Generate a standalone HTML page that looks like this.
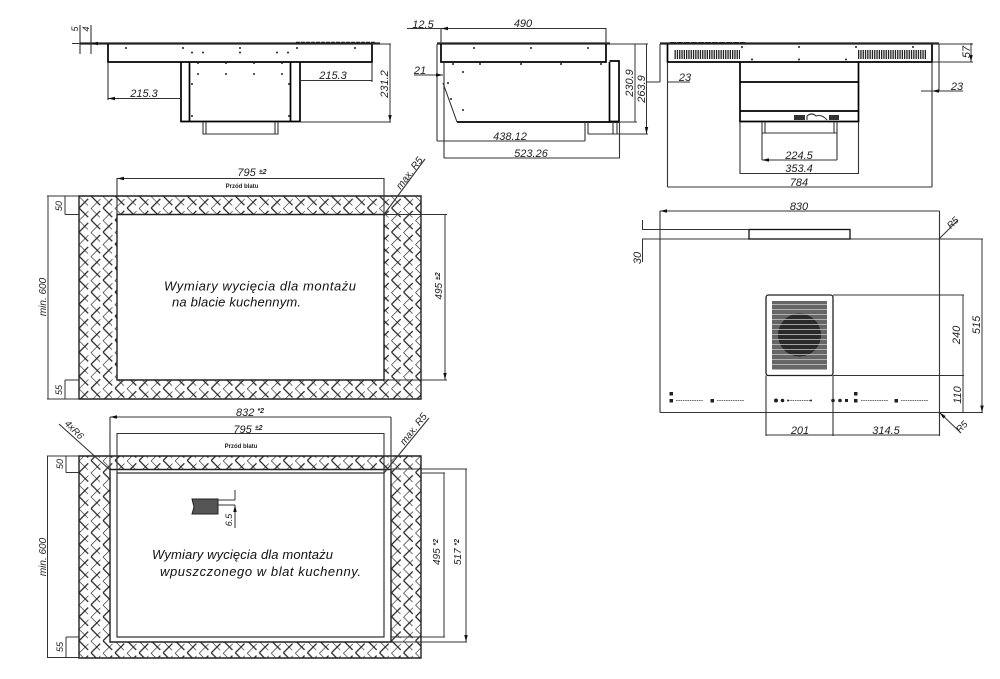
<!DOCTYPE html>
<html><head><meta charset="utf-8"><style>
html,body{margin:0;padding:0;background:#fff;width:1000px;height:679px;overflow:hidden}
svg{display:block;filter:blur(.3px)}
text{font-family:"Liberation Sans",sans-serif;font-style:italic;fill:#222;text-anchor:middle}
.d{font-size:11px}
.n{font-size:13px;text-anchor:start;fill:#111}
.p{font-size:6px;font-weight:bold;font-style:normal}
.t{stroke:#333;stroke-width:1.1;fill:none}
.m{stroke:#000;stroke-width:1.7;fill:none}
.x{stroke:#222;stroke-width:2.2;fill:none}
.a{stroke:#333;stroke-width:1;fill:none;marker-start:url(#ar);marker-end:url(#ar)}
.e{stroke:#333;stroke-width:1;fill:none;marker-end:url(#ar)}
</style></head><body>
<svg width="1000" height="679" viewBox="0 0 1000 679" xmlns="http://www.w3.org/2000/svg">
<defs>
<marker id="ar" markerUnits="userSpaceOnUse" markerWidth="7" markerHeight="5" refX="7" refY="2.500" orient="auto-start-reverse"><path d="M0 .8L7 2.500L0 4.200z" fill="#111"/></marker>
<pattern id="h" width="17" height="17" patternUnits="userSpaceOnUse" patternTransform="translate(79 196) rotate(45)">
<path d="M0 0H13M8.500 8.500H17M0 8.500H4.500M0 4V17M8.500 0V8.500M8.500 12.500V17" stroke="#222" stroke-width="1.250" fill="none"/>
</pattern>
</defs>
<rect width="1000" height="679" fill="#fff"/>

<!-- VIEW 1 -->
<path class="x" d="M80 43.500H380"/>
<path class="m" d="M108 44V62H372V44M181 62V121.500H300V62M189.500 62V121.500M290.500 62V121.500"/>
<path class="t" d="M203 122V134H278V122M206 122V134M275 122V134"/>
<path d="M296 43H376" stroke="#222" stroke-width="2.500" stroke-dasharray="4 1"/>
<path class="t" d="M80 25V54M91 25V54M108 62V100M372 62V82M300 122H391M372 44H391"/>
<path class="e" d="M72 43.500H80M99 43.500H91"/>
<path class="a" d="M108 98.500H181M300 80.500H372M390 44V122"/>
<g fill="#222"><circle cx="126" cy="48" r="1"/><circle cx="183" cy="48" r="1"/><circle cx="240" cy="48" r="1"/><circle cx="297" cy="48" r="1"/><circle cx="355" cy="48" r="1"/><circle cx="192" cy="52.500" r="1"/><circle cx="203" cy="52.500" r="1"/><circle cx="240" cy="52.500" r="1"/><circle cx="277" cy="52.500" r="1"/><circle cx="288" cy="52.500" r="1"/><circle cx="198" cy="63" r="1"/><circle cx="226" cy="63" r="1"/><circle cx="254" cy="63" r="1"/><circle cx="282" cy="63" r="1"/><circle cx="198" cy="74" r="1"/><circle cx="226" cy="74" r="1"/><circle cx="254" cy="74" r="1"/><circle cx="282" cy="74" r="1"/><circle cx="192" cy="84" r="1"/><circle cx="289" cy="84" r="1"/><circle cx="192" cy="116" r="1"/><circle cx="289" cy="116" r="1"/></g>
<text class="d" x="144" y="97">215.3</text>
<text class="d" x="333" y="79">215.3</text>
<text class="d" transform="translate(388 84) rotate(-90)" x="0" y="0">231.2</text>
<text class="d" transform="translate(78 29) rotate(-90)" style="font-size:9px">5</text>
<text class="d" transform="translate(89 29) rotate(-90)" style="font-size:9px">4</text>

<!-- VIEW 2 -->
<path class="x" d="M437 43.500H610"/>
<path class="m" d="M441 44V62H606V44M609.500 61H619V121.500H609.500V62M457 122H619"/>
<path class="t" d="M444 62V75M443 83L457 122M585 122V134M588 122V134M613 122V134M617 122V134M588 134H648M610 44H648M619 122H637M437 44V141M441 28V44M606 28V44M444 75V158M619.500 122V158M585 134V141"/>
<path class="a" d="M441 28.500H606M437 141H585M444 158H620M635 44V122M646.500 44V134"/>
<path class="e" d="M407 28.500H441M414 75H443"/>
<g fill="#222"><circle cx="474" cy="48" r="1"/><circle cx="531" cy="48" r="1"/><circle cx="588" cy="48" r="1"/><circle cx="453" cy="64" r="1"/><circle cx="480" cy="64" r="1"/><circle cx="521" cy="64" r="1"/><circle cx="561" cy="64" r="1"/><circle cx="601" cy="64" r="1"/><circle cx="463" cy="72" r="1"/><circle cx="448" cy="83" r="1"/><circle cx="451" cy="99" r="1"/><circle cx="463" cy="110" r="1"/></g>
<text class="d" x="423" y="28">12.5</text>
<text class="d" x="523" y="27">490</text>
<text class="d" x="420" y="74">21</text>
<text class="d" x="510" y="140">438.12</text>
<text class="d" x="531" y="157">523.26</text>
<text class="d" transform="translate(633 83) rotate(-90)">230.9</text>
<text class="d" transform="translate(645 89) rotate(-90)">263.9</text>

<!-- VIEW 3 -->
<path class="x" d="M660 43.500H939"/>
<path class="m" d="M667.500 44V62H932V44M740 62V121.500H858.500V62M740 82H858.500M740 111H858.500"/>
<path class="t" d="M762 122V133H837V122M765 122V133M834 122V133M660 44V82M939 44V91M932 44H973M932 62H973M667.500 62V187M932 62V187M740 122V174M858.500 122V174M762 133V160M837 133V160"/>
<path d="M674.500 54.500H740M858 54.500H926" stroke="#222" stroke-width="9" stroke-dasharray="1.300 1"/>
<path d="M670 43H745" stroke="#222" stroke-width="2" stroke-dasharray="6 1"/>
<rect x="794" y="115" width="11" height="5" fill="#333"/><rect x="829" y="115" width="10" height="5" fill="#333"/><path class="t" d="M807 120V116Q812 112 816 116Q822 114 827 120"/>
<path class="a" d="M762 160H837M740 173.500H859M667.500 187H932M971 43V62"/>
<path class="e" d="M646 82H660M690 82H667.500M921 91H939M963 91H932"/>
<g fill="#222"><circle cx="742" cy="47" r="1"/><circle cx="799" cy="47" r="1"/><circle cx="856" cy="47" r="1"/><circle cx="913" cy="47" r="1"/><circle cx="752" cy="59.500" r="1"/><circle cx="799" cy="59.500" r="1"/><circle cx="846" cy="59.500" r="1"/></g>
<text class="d" x="685" y="81">23</text>
<text class="d" x="957" y="90">23</text>
<text class="d" transform="translate(970 52) rotate(-90)">57</text>
<text class="d" x="799" y="159">224.5</text>
<text class="d" x="799" y="172">353.4</text>
<text class="d" x="799" y="186">784</text>

<!-- VIEW 4 -->
<rect x="660" y="239" width="279.500" height="173.500" rx="1" class="t"/>
<rect x="749" y="229.500" width="101" height="9.500" fill="#fff" stroke="#111" stroke-width="1.300"/>
<rect x="766" y="295" width="67" height="80.500" rx="2.500" fill="#fff" stroke="#222" stroke-width="1.300"/>
<rect x="772" y="301" width="55" height="68.500" fill="#666"/>
<circle cx="799.500" cy="335" r="21.500" fill="#2a2a2a"/>
<path d="M772 304.500H827M772 309.500H827M772 314.500H827M772 319.500H827M772 324.500H827M772 329.500H827M772 334.500H827M772 339.500H827M772 344.500H827M772 349.500H827M772 354.500H827M772 359.500H827M772 364.500H827" stroke="#ccc" stroke-width=".8"/>
<path class="t" d="M660 211V239M939.500 211V239M642 229.500H749M642 239H660M833 295H964M833 375.500H964M766 375.500V436M833 375.500V436M939.500 412V436M939 239H983M939 412.500H983"/>
<path class="a" d="M660 211H939.500M766 435H833M833 435H939.500M963 295V375.500M963 375.500V412.500M982 239V412.500"/>
<path class="e" d="M642.500 262V239M642.500 220V229.500M958 220L939.500 238.500M961 433L939.500 412.500"/>
<g fill="#222">
<rect x="669.500" y="392" width="3.500" height="3.500"/><rect x="669.500" y="399" width="3.500" height="3.500"/><rect x="710.500" y="399" width="3.500" height="3.500"/>
<circle cx="776" cy="400.500" r="2"/><circle cx="782.500" cy="400.500" r="1.800"/><circle cx="788" cy="400.500" r="1"/><circle cx="811" cy="400.500" r="1"/>
<circle cx="833" cy="400.500" r="1.800"/><circle cx="840" cy="400.500" r="1.800"/><rect x="845" y="399" width="3" height="3"/>
<rect x="854" y="392" width="3.500" height="3.500"/><rect x="854" y="399" width="3.500" height="3.500"/><rect x="894.500" y="399" width="3.500" height="3.500"/></g>
<path d="M676 400.500H703M717 400.500H744M788 400.500H810M861 400.500H888M901 400.500H928" stroke="#333" stroke-width=".8" stroke-dasharray="1.500 .8"/>
<text class="d" x="799" y="210">830</text>
<text class="d" transform="translate(641 258) rotate(-90)">30</text>
<text class="d" transform="translate(960 335) rotate(-90)">240</text>
<text class="d" transform="translate(961 395) rotate(-90)">110</text>
<text class="d" transform="translate(980 325) rotate(-90)">515</text>
<text class="d" x="800" y="434">201</text>
<text class="d" x="886" y="434">314.5</text>
<text class="d" transform="translate(955 225) rotate(-45)" style="font-size:9.500px">R5</text>
<text class="d" transform="translate(964 429) rotate(-45)" style="font-size:9.500px">R5</text>

<!-- HATCH 1 -->
<path fill="url(#h)" fill-rule="evenodd" d="M79 196H421V399H79ZM117 214.500V380H384V214.500Z"/>
<path style="fill:none;stroke-width:1.400;stroke:#222" d="M79 196H421V399H79ZM117 214.500V380H384V214.500Z"/>
<path class="t" d="M117 178V214M384 178V214M47 196H79M65 214.500H79M47 399H79M65 380H79M384 214.500H447M384 380H447"/>
<path class="a" d="M117 178.500H384M65 196V214.500M65 380V399M48 196V399M445 214.500V380"/>
<path class="t" d="M384 214.500L425 159"/>
<text class="d" x="252" y="176">795 <tspan style="font-size:7px;font-weight:bold" dy="-2">±2</tspan></text>
<text class="p" x="242" y="188">Przód blatu</text>
<text class="d" transform="translate(412 175) rotate(-53)" style="font-size:10px">max. R5</text>
<text class="d" transform="translate(62 206) rotate(-90)" style="font-size:9px">50</text>
<text class="d" transform="translate(62 390) rotate(-90)" style="font-size:9px">55</text>
<text class="d" transform="translate(46 297) rotate(-90)" style="font-size:10px">min. 600</text>
<text class="d" transform="translate(442 286) rotate(-90)" style="font-size:10px">495 <tspan style="font-size:7px;font-weight:bold" dy="-2">±2</tspan></text>
<text class="n" x="164" y="290.500" textLength="192" lengthAdjust="spacing">Wymiary wycięcia dla montażu</text>
<text class="n" x="172" y="306.500" textLength="129" lengthAdjust="spacing">na blacie kuchennym.</text>

<!-- HATCH 2 -->
<path fill="url(#h)" fill-rule="evenodd" d="M79 456H421V658H79ZM110 469.500V642H391V469.500Z"/>
<path style="fill:none;stroke-width:1.400;stroke:#222" d="M79 456H421V658H79ZM110 469.500V642H391V469.500Z"/>
<path class="t" style="stroke-width:1.200" d="M117 473V637H384V473Z"/>
<path class="t" d="M110 417V470M391 417V470M117 433V473M384 433V473M47 456H79M66 472.500H79M47 657.500H79M66 637H79M391 469H467M421 473H445M391 637H445M391 642H467M59 424L110 470M384 473L429 418"/>
<path class="a" d="M110 417H391M117 433.500H384M66 456V472.500M66 637V657.500M47.500 456V657.500M444 473V637M466 469V642"/>
<path d="M192 499H218V514H192L194 507Z" fill="#555" stroke="#222"/>
<path d="M218 500H235M218 505H235" class="t"/><path class="e" d="M235 490V500M235 528V505"/>
<text class="d" transform="translate(232 520) rotate(-90)" style="font-size:9px">6.5</text>
<text class="d" x="250" y="416">832 <tspan style="font-size:7px;font-weight:bold" dy="-3">*2</tspan></text>
<text class="d" x="248" y="433">795 <tspan style="font-size:7px;font-weight:bold" dy="-3">±2</tspan></text>
<text class="p" x="241" y="448">Przód blatu</text>
<text class="d" transform="translate(72 432) rotate(45)" style="font-size:9.500px">4xR6</text>
<text class="d" transform="translate(416 431) rotate(-52)" style="font-size:10px">max. R5</text>
<text class="d" transform="translate(63 464) rotate(-90)" style="font-size:9px">50</text>
<text class="d" transform="translate(63 647) rotate(-90)" style="font-size:9px">55</text>
<text class="d" transform="translate(46 557) rotate(-90)" style="font-size:10px">min. 600</text>
<text class="d" transform="translate(440 552) rotate(-90)" style="font-size:10px">495 <tspan style="font-size:7px;font-weight:bold" dy="-2">*2</tspan></text>
<text class="d" transform="translate(461 552) rotate(-90)" style="font-size:10px">517 <tspan style="font-size:7px;font-weight:bold" dy="-2">*2</tspan></text>
<text class="n" x="152" y="559" textLength="181" lengthAdjust="spacing">Wymiary wycięcia dla montażu</text>
<text class="n" x="160" y="576" textLength="201" lengthAdjust="spacing">wpuszczonego w blat kuchenny.</text>
</svg>
</body></html>
